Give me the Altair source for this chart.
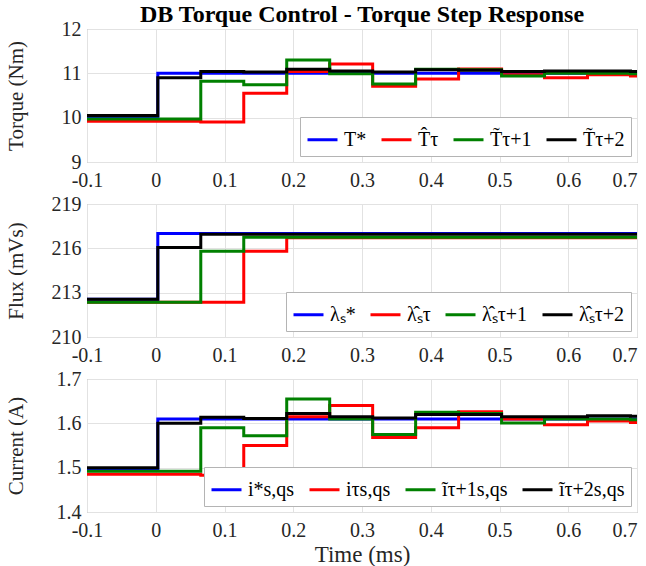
import altair as alt
import pandas as pd

# ---- data ----
t_steps = [-0.1, -0.0595, 0.003, 0.0655, 0.128, 0.1905, 0.253, 0.3155,
           0.378, 0.4405, 0.503, 0.5655, 0.628, 0.6905, 0.7]

x_ticks = [-0.1, 0.0, 0.1, 0.2, 0.3, 0.4, 0.5, 0.6, 0.7]

torque_labels = ["T*", "T\u0302\u03c4", "T\u0303\u03c4+1", "T\u0303\u03c4+2"]
torque_ref = [10.0, 10.0, 11.0, 11.0, 11.0, 11.0, 11.0, 11.0, 11.0, 11.0, 11.0, 11.0, 11.0, 11.0, 11.0]
torque_est = [9.92, 9.92, 9.92, 9.90, 10.55, 11.04, 11.21, 10.71, 10.87, 11.10, 10.97, 10.90, 10.97, 10.94, 10.94]
torque_p1 = [9.97, 9.97, 9.97, 10.82, 10.74, 11.30, 10.99, 10.76, 11.09, 11.08, 10.94, 11.00, 11.00, 10.99, 10.99]
torque_p2 = [10.05, 10.05, 10.90, 11.04, 11.03, 11.09, 11.05, 11.03, 11.08, 11.07, 11.04, 11.05, 11.05, 11.04, 11.04]
torque_ticks = [9, 10, 11, 12]

flux_labels = ["\u03bb\u209b*", "\u03bb\u0302\u209b\u03c4", "\u03bb\u0302\u209b\u03c4+1", "\u03bb\u0302\u209b\u03c4+2"]
flux_ref = [212.55, 212.55, 217.0, 217.0, 217.0, 217.0, 217.0, 217.0, 217.0, 217.0, 217.0, 217.0, 217.0, 217.0, 217.0]
flux_est = [212.35, 212.35, 212.35, 212.35, 215.8, 216.72, 216.72, 216.72, 216.72, 216.72, 216.72, 216.72, 216.72, 216.72, 216.72]
flux_p1 = [212.35, 212.35, 212.35, 215.8, 216.75, 216.75, 216.75, 216.75, 216.75, 216.75, 216.75, 216.75, 216.75, 216.75, 216.75]
flux_p2 = [212.55, 212.55, 216.05, 216.95, 216.95, 216.95, 216.95, 216.95, 216.95, 216.95, 216.95, 216.95, 216.95, 216.95, 216.95]
flux_ticks = [210, 213, 216, 219]

current_labels = ["i*s,qs", "i\u03c4s,qs", "\u0129\u03c4+1s,qs", "\u0129\u03c4+2s,qs"]
current_ref = [1.497, 1.497, 1.61, 1.61, 1.61, 1.61, 1.61, 1.61, 1.61, 1.61, 1.61, 1.61, 1.61, 1.61, 1.61]
current_est = [1.485, 1.485, 1.485, 1.483, 1.55, 1.615, 1.64, 1.568, 1.59, 1.626, 1.61, 1.597, 1.605, 1.602, 1.602]
current_p1 = [1.492, 1.492, 1.492, 1.59, 1.572, 1.655, 1.61, 1.575, 1.625, 1.622, 1.601, 1.61, 1.61, 1.608, 1.608]
current_p2 = [1.50, 1.50, 1.60, 1.614, 1.611, 1.622, 1.615, 1.612, 1.62, 1.62, 1.615, 1.615, 1.617, 1.616, 1.616]
current_ticks = [1.4, 1.5, 1.6, 1.7]

colors = ["#0000ff", "#ff0000", "#008000", "#000000"]

FONT = "Liberation Serif"
W, H = 550, 133
TXT = "#262626"


def panel(labels, series, ticks, ytitle, yfmt, last=False, title=None):
    rows = []
    for lab, vals in zip(labels, series):
        for t, v in zip(t_steps, vals):
            rows.append({"t": t, "v": v, "series": lab})
    df = pd.DataFrame(rows)

    common = dict(labelFont=FONT, labelFontSize=20, labelColor=TXT,
                  titleFont=FONT, titleFontWeight="normal", titleColor=TXT,
                  domain=False, ticks=False, grid=True, gridColor="#e2e2e2")
    x_axis = alt.Axis(
        values=x_ticks,
        labelExpr="datum.value < -0.01 ? '-' + format(-datum.value, '.1f') : (abs(datum.value) < 0.01 ? '0' : format(datum.value, '.1f'))",
        labelAlign={"condition": {"test": "datum.value > 0.65", "value": "right"}, "value": "center"},
        title="Time (ms)" if last else None,
        titleFontSize=23,
        titlePadding=3,
        labelPadding=8,
        **common,
    )
    y_axis = alt.Axis(values=ticks, format=yfmt, title=ytitle, titleX=-61,
                      titleFontSize=21, labelPadding=6, **common)
    color = alt.Color(
        "series:N",
        scale=alt.Scale(domain=labels, range=colors),
        legend=alt.Legend(
            title=None, orient="bottom-right", direction="horizontal",
            offset=6, padding=6, strokeColor="#b4b4b4", fillColor="white",
            symbolType="stroke", symbolSize=900, symbolStrokeWidth=3,
            labelFont=FONT, labelFontSize=20, labelFontStyle="normal",
            labelColor="black", labelOffset=5, columnPadding=8,
            labelLimit=200,
        ),
    )
    layers = []
    for lab in labels:
        layers.append(
            alt.Chart(df)
            .transform_filter(alt.datum.series == lab)
            .mark_line(interpolate="step-after", strokeWidth=3, clip=True)
            .encode(
                x=alt.X("t:Q", scale=alt.Scale(domain=[-0.1, 0.7], nice=False, zero=False), axis=x_axis),
                y=alt.Y("v:Q", scale=alt.Scale(domain=[ticks[0], ticks[-1]], nice=False, zero=False), axis=y_axis),
                color=color,
            )
        )
    props = dict(width=W, height=H)
    if title is not None:
        props["title"] = title
    return alt.layer(*layers).properties(**props)


title = alt.TitleParams(
    "DB Torque Control - Torque Step Response",
    font=FONT, fontSize=24, fontWeight="bold", color="black",
    anchor="middle", frame="group", offset=-8,
)

top = panel(torque_labels, [torque_ref, torque_est, torque_p1, torque_p2],
            torque_ticks, "Torque (Nm)", "d", title=title)
mid = panel(flux_labels, [flux_ref, flux_est, flux_p1, flux_p2],
            flux_ticks, "Flux (mVs)", "d")
bot = panel(current_labels, [current_ref, current_est, current_p1, current_p2],
            current_ticks, "Current (A)", ".1f", last=True)

chart = (
    alt.vconcat(top, mid, bot, spacing=2)
    .resolve_scale(color="independent")
    .properties(padding={"left": 4, "top": 2, "right": 5, "bottom": 2},
                background="white")
    .configure(font=FONT, style={"guide-label": {"font": FONT},
                                 "guide-title": {"font": FONT}})
    .configure_view(stroke="#9a9a9a", strokeWidth=1)
    .configure_title(font=FONT, fontSize=24, fontWeight="bold", color="black")
    .configure_legend(labelFont=FONT, labelFontStyle="normal", labelFontSize=20)
)

chart.save("out.html", embed_options={"renderer": "svg", "actions": False})
